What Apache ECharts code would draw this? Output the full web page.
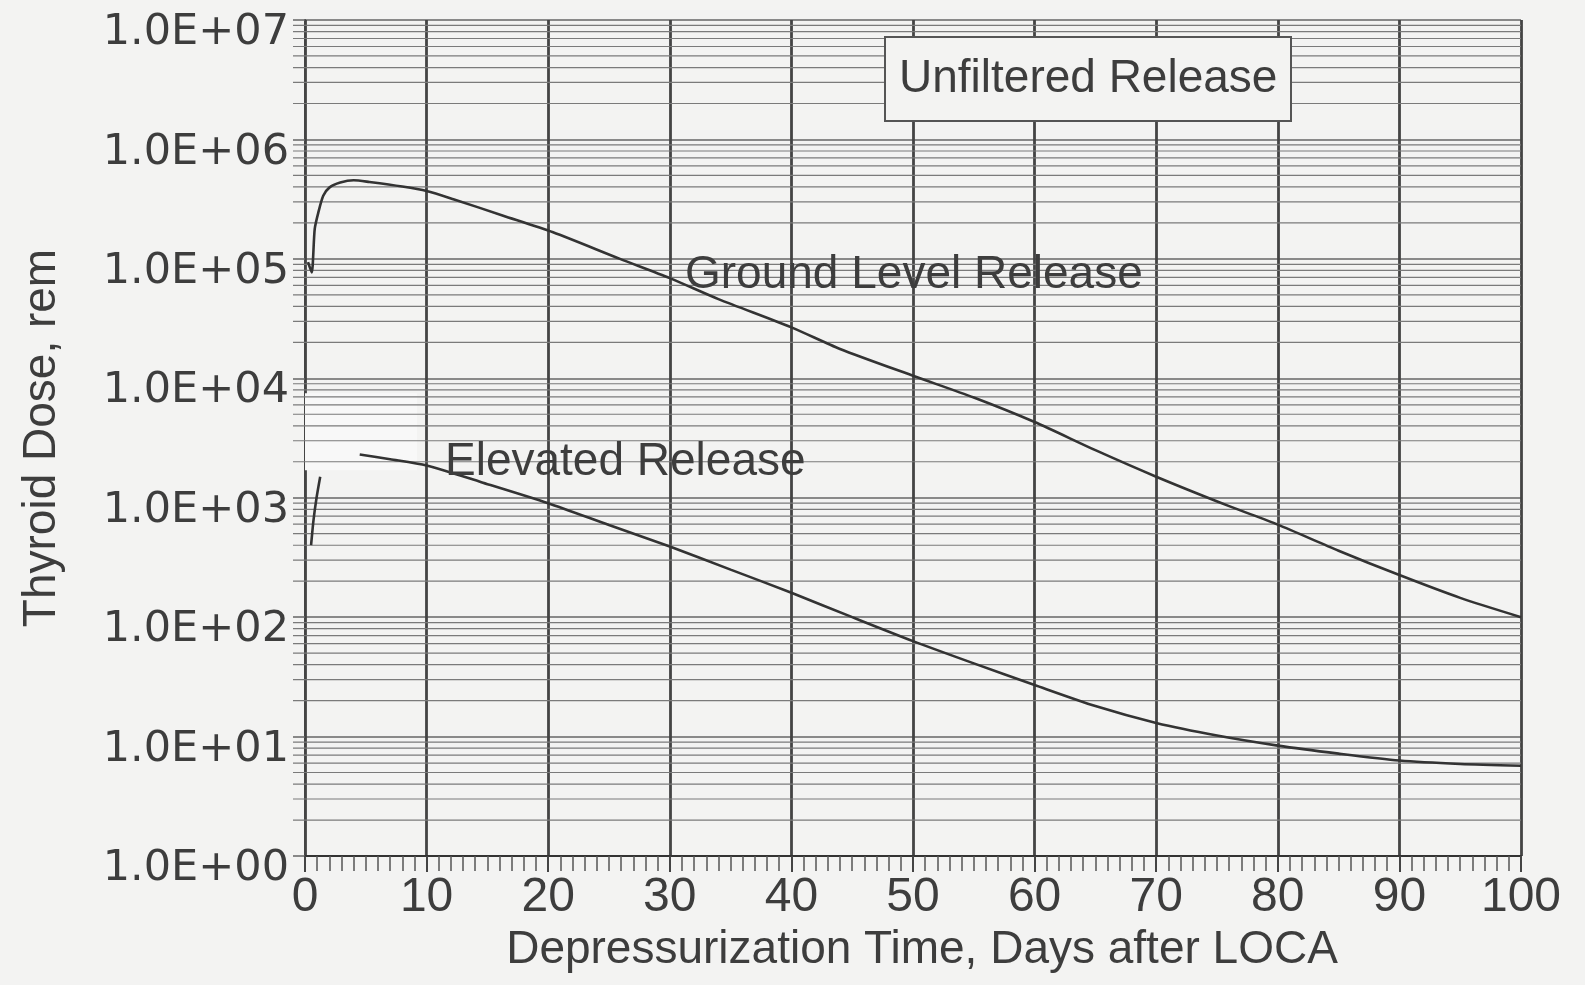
<!DOCTYPE html>
<html>
<head>
<meta charset="utf-8">
<title>Thyroid Dose - Unfiltered Release</title>
<script src="https://cdn.jsdelivr.net/npm/echarts@6/dist/echarts.min.js"></script>
<style>
  html, body { margin: 0; padding: 0; background: #f3f3f2; }
  #chart { width: 1585px; height: 985px; }
</style>
</head>
<body>
<div id="chart"></div>
<script>
// Ground level release (days after LOCA, rem)
var groundDays = [0.25, 0.55, 0.8, 1.1, 1.5, 2.0, 2.9, 4.0, 5.3, 8.0, 10, 12.2, 16.3, 20.4, 25.9, 30, 34, 40, 44, 50, 55, 60, 65, 70, 76, 80, 85, 90, 95, 100]
var groundDose = [9.4e4, 7.7e4, 1.78e5, 2.45e5, 3.37e5, 3.95e5, 4.35e5, 4.55e5, 4.4e5, 4.03e5, 3.7e5, 3.16e5, 2.3e5, 1.67e5, 1.0e5, 6.9e4, 4.6e4, 2.67e4, 1.76e4, 1.05e4, 6.9e3, 4.3e3, 2.5e3, 1.5e3, 8.5e2, 5.95e2, 3.6e2, 2.25e2, 1.45e2, 1.0e2]

// Elevated release (null = part of the trace erased on the original)
var elevatedDays = [0.5, 0.7, 0.95, 1.25, 2.5, 4.5, 7, 10, 14.5, 20, 25, 30, 35, 40, 45, 50, 55, 60, 65, 70, 75, 80, 85, 90, 95, 100]
var elevatedDose = [4.0e2, 6.5e2, 1.0e3, 1.5e3, null, 2.3e3, 2.1e3, 1.86e3, 1.35e3, 9.0e2, 5.9e2, 3.9e2, 2.5e2, 1.6e2, 1.0e2, 63, 41, 27, 18, 13, 10.2, 8.4, 7.2, 6.3, 5.9, 5.7]

var xTicks = [0, 100, 10]   // min, max, step (days)
var yDecades = [0, 7]       // 1.0E+00 .. 1.0E+07

var textColor = '#3d3d3d'

// log paper: minor lines at 2..9 of every decade
var minorLevels = []
for (var e = yDecades[0]; e < yDecades[1]; e++) {
  for (var m = 2; m <= 9; m++) {
    minorLevels.push([0, m * Math.pow(10, e)])
  }
}

function pairs (xs, ys) {
  return xs.map(function (x, i) {
    return [x, ys[i] == null ? '-' : ys[i]]
  })
}

var myChart = echarts.init(document.getElementById('chart'))
myChart.setOption({
  backgroundColor: '#f3f3f2',
  animation: false,
  title: {
    text: 'Unfiltered Release',
    left: 885,
    top: 37,
    padding: [19, 14, 19, 14],
    borderWidth: 2,
    borderColor: '#555',
    backgroundColor: '#f3f3f2',
    textStyle: {
      fontFamily: 'Liberation Sans',
      fontSize: 46,
      fontWeight: 'normal',
      color: textColor
    }
  },
  grid: {
    left: 305,
    right: 64,
    top: 20,
    bottom: 129
  },
  xAxis: {
    type: 'value',
    min: xTicks[0],
    max: xTicks[1],
    interval: xTicks[2],
    name: 'Depressurization Time, Days after LOCA',
    nameLocation: 'middle',
    nameGap: 64,
    nameTextStyle: {
      fontFamily: 'Liberation Sans',
      fontSize: 46,
      color: textColor,
      padding: [0, 0, 0, 18]
    },
    axisLine: { show: true, lineStyle: { color: '#333', width: 2 } },
    axisTick: { show: true, length: 16, lineStyle: { color: '#444', width: 2 } },
    minorTick: { show: true, splitNumber: 10, length: 15, lineStyle: { color: '#555', width: 1.5 } },
    axisLabel: {
      margin: 18,
      fontFamily: 'Liberation Sans',
      fontSize: 48,
      color: textColor
    },
    splitLine: { show: true, lineStyle: { color: '#444', width: 2.8 } }
  },
  yAxis: {
    type: 'log',
    logBase: 10,
    min: Math.pow(10, yDecades[0]),
    max: Math.pow(10, yDecades[1]),
    interval: 1,
    name: 'Thyroid Dose, rem',
    nameLocation: 'middle',
    nameGap: 240,
    nameTextStyle: {
      fontFamily: 'Liberation Sans',
      fontSize: 46,
      color: textColor
    },
    axisLine: { show: true, lineStyle: { color: '#444', width: 2 } },
    axisTick: { show: true, length: 12, lineStyle: { color: '#666', width: 1.5 } },
    axisLabel: {
      margin: 16,
      formatter: function (v) {
        var p = Math.round(Math.log10(v))
        return '{e|1.0E+' + (p < 10 ? '0' : '') + p + '}'
      },
      rich: {
        e: {
          fontFamily: 'DejaVu Sans',
          fontSize: 43,
          color: textColor,
          padding: [26, 0, 0, 0]
        }
      }
    },
    splitLine: { show: true, lineStyle: { color: '#666', width: 1.6 } }
  },
  graphic: [
    {
      type: 'text',
      left: 685,
      top: 252,
      z: 10,
      style: { text: 'Ground Level Release', font: '46px "Liberation Sans"', fill: textColor }
    },
    {
      type: 'text',
      left: 445,
      top: 439,
      z: 10,
      style: { text: 'Elevated Release', font: '46px "Liberation Sans"', fill: textColor }
    }
  ],
  series: [
    {
      // minor log grid lines + their ticks left of the axis
      name: 'minorGrid',
      type: 'custom',
      silent: true,
      clip: false,
      z: 1,
      data: minorLevels,
      encode: { x: 0, y: 1 },
      renderItem: function (params, api) {
        var p0 = api.coord([xTicks[0], api.value(1)])
        var p1 = api.coord([xTicks[1], api.value(1)])
        return {
          type: 'line',
          shape: { x1: p0[0] - 12, y1: p0[1], x2: p1[0], y2: p1[1] },
          style: { stroke: '#7a7a7a', lineWidth: 1.2 }
        }
      },
      markArea: {
        silent: true,
        itemStyle: { color: '#f8f8f8' },
        data: [[{ coord: [0, 1.7e3] }, { coord: [9.2, 7.5e3] }]]
      }
    },
    {
      name: 'Ground Level Release',
      type: 'line',
      z: 3,
      showSymbol: false,
      smooth: 0.25,
      lineStyle: { color: '#333', width: 2.6 },
      data: pairs(groundDays, groundDose)
    },
    {
      name: 'Elevated Release',
      type: 'line',
      z: 3,
      showSymbol: false,
      smooth: 0.25,
      connectNulls: false,
      lineStyle: { color: '#333', width: 2.6 },
      data: pairs(elevatedDays, elevatedDose)
    }
  ]
})
</script>
</body>
</html>
